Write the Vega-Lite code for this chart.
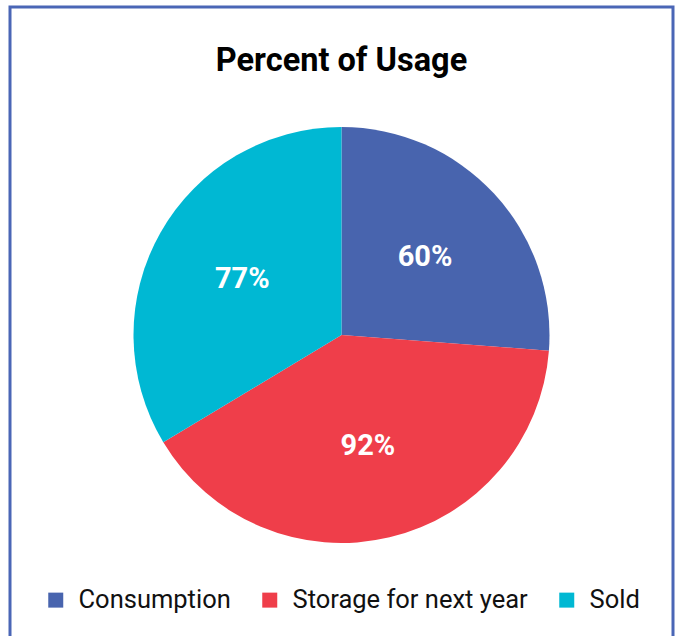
{
  "$schema": "https://vega.github.io/schema/vega-lite/v6.json",
  "width": 663,
  "height": 656,
  "autosize": {"type": "none"},
  "padding": {"left": 10, "top": 7, "right": 5, "bottom": 0},
  "background": "white",
  "title": {
    "text": "Percent of Usage",
    "font": "Roboto",
    "fontSize": 32.5,
    "fontWeight": "bold",
    "color": "#000000",
    "anchor": "middle",
    "offset": -72
  },
  "layer": [
    {
      "data": {"values": [{"frame": 1}]},
      "mark": {"type": "rect", "fill": null, "stroke": "#4A66B6", "strokeWidth": 3},
      "encoding": {}
    },
    {
      "data": {
        "values": [
          {"category": "Consumption", "value": 60, "label": "60%", "rank": 1},
          {"category": "Storage for next year", "value": 92, "label": "92%", "rank": 2},
          {"category": "Sold", "value": 77, "label": "77%", "rank": 3}
        ]
      },
      "encoding": {
        "theta": {"field": "value", "type": "quantitative", "stack": true},
        "order": {"field": "rank", "type": "quantitative"}
      },
      "layer": [
        {
          "mark": {"type": "arc", "outerRadius": 208},
          "encoding": {
            "color": {
              "field": "category",
              "type": "nominal",
              "scale": {
                "domain": ["Consumption", "Storage for next year", "Sold"],
                "range": ["#4864AE", "#EF3E4A", "#00B8D3"]
              },
              "legend": {
                "title": null,
                "orient": "bottom",
                "direction": "horizontal",
                "offset": -76,
                "symbolType": "square",
                "symbolSize": 225,
                "symbolStrokeWidth": 0,
                "symbolOpacity": 1,
                "labelFont": "Roboto",
                "labelFontSize": 25.5,
                "labelColor": "#111111",
                "labelOffset": 10,
                "labelLimit": 0,
                "columnPadding": 26
              }
            }
          }
        },
        {
          "mark": {
            "type": "text",
            "radius": 114,
            "font": "Roboto",
            "fontSize": 29,
            "fontWeight": "bold",
            "fill": "white"
          },
          "encoding": {
            "text": {"field": "label", "type": "nominal"}
          }
        }
      ]
    }
  ],
  "config": {
    "view": {"stroke": null},
    "legend": {"layout": {"bottom": {"anchor": "middle"}}}
  }
}
